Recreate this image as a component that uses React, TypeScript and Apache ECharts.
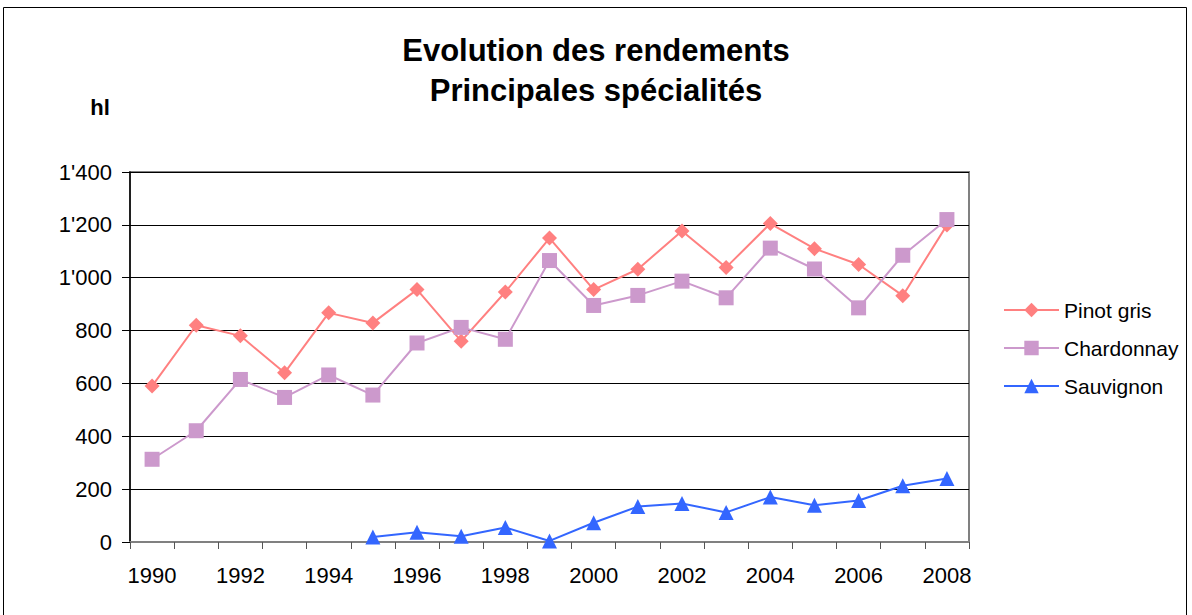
import React, { useEffect, useRef } from "react";
import * as echarts from "echarts";

const years = ["1990","1991","1992","1993","1994","1995","1996","1997","1998","1999","2000","2001","2002","2003","2004","2005","2006","2007","2008"];
const pinotGris = [590, 820, 780, 640, 867, 829, 955, 760, 946, 1150, 955, 1032, 1177, 1039, 1205, 1110, 1050, 932, 1199];
const chardonnay = [313, 421, 615, 547, 632, 556, 753, 812, 767, 1065, 895, 933, 987, 924, 1112, 1033, 886, 1085, 1220];
const sauvignon = [null, null, null, null, null, 19, 37, 22, 55, 4, 73, 134, 146, 112, 170, 139, 157, 213, 240];
const titleLines = ["Evolution des rendements", "Principales spécialités"];
const unitLabel = "hl";

const FONT = "'Liberation Sans', Arial, Helvetica, sans-serif";

function fmt(v: number): string {
  if (v >= 1000) {
    return Math.floor(v / 1000) + "'" + String(v % 1000).padStart(3, "0");
  }
  return String(v);
}

export default function App() {
  const ref = useRef<HTMLDivElement>(null);
  useEffect(() => {
    if (!ref.current) return;
    const chart = echarts.init(ref.current, null, { renderer: "svg" });
    chart.setOption({
      animation: false,
      backgroundColor: "#ffffff",
      textStyle: { fontFamily: FONT },
      title: {
        text: titleLines.join("\n"),
        left: "center",
        top: 25,
        textStyle: { fontFamily: FONT, fontSize: 31, fontWeight: "bold", color: "#000", lineHeight: 40 },
      },
      graphic: [
        {
          type: "rect",
          shape: { x: 3.5, y: 7.5, width: 1183, height: 640 },
          style: { fill: "none", stroke: "#000", lineWidth: 1 },
          silent: true,
        },
        {
          type: "text",
          x: 100,
          y: 107,
          style: { text: unitLabel, font: `bold 22px ${FONT}`, fill: "#000", textAlign: "center", textVerticalAlign: "middle" },
        },
      ],
      legend: {
        orient: "vertical",
        left: 998,
        top: 294,
        itemWidth: 55,
        itemHeight: 18,
        itemGap: 16,
        textStyle: { fontFamily: FONT, fontSize: 21, color: "#000", lineHeight: 22 },
        data: ["Pinot gris", "Chardonnay", "Sauvignon"],
      },
      grid: {
        left: 130,
        right: 223,
        top: 172,
        bottom: 73,
        show: true,
        borderColor: "#808080",
        borderWidth: 2,
        backgroundColor: "#ffffff",
      },
      xAxis: {
        type: "category",
        data: years,
        boundaryGap: true,
        axisLine: { lineStyle: { color: "#808080", width: 2 } },
        axisTick: { show: true, interval: 0, length: 7, lineStyle: { color: "#555", width: 1 } },
        axisLabel: { interval: 1, margin: 22, fontSize: 22, color: "#000", fontFamily: FONT },
        splitLine: { show: false },
      },
      yAxis: {
        type: "value",
        min: 0,
        max: 1400,
        interval: 200,
        axisLine: { show: true, lineStyle: { color: "#000", width: 1.5 } },
        axisTick: { show: true, length: 8, lineStyle: { color: "#000" } },
        axisLabel: { margin: 18, fontSize: 22, color: "#000", fontFamily: FONT, formatter: (v: number) => fmt(v) },
        splitLine: { show: true, lineStyle: { color: "#000", width: 1 } },
      },
      series: [
        {
          name: "Pinot gris",
          type: "line",
          data: pinotGris,
          symbol: "diamond",
          symbolSize: 15,
          itemStyle: { color: "#FF8080" },
          lineStyle: { color: "#FF8080", width: 2 },
        },
        {
          name: "Chardonnay",
          type: "line",
          data: chardonnay,
          symbol: "rect",
          symbolSize: 15,
          itemStyle: { color: "#CC99CC" },
          lineStyle: { color: "#CC99CC", width: 2 },
        },
        {
          name: "Sauvignon",
          type: "line",
          data: sauvignon,
          symbol: "triangle",
          symbolSize: 15,
          itemStyle: { color: "#3366FF" },
          lineStyle: { color: "#3366FF", width: 2 },
        },
      ],
    });
    return () => chart.dispose();
  }, []);
  return <div ref={ref} style={{ position: "fixed", left: 0, top: 0, width: 1192, height: 615 }} />;
}
